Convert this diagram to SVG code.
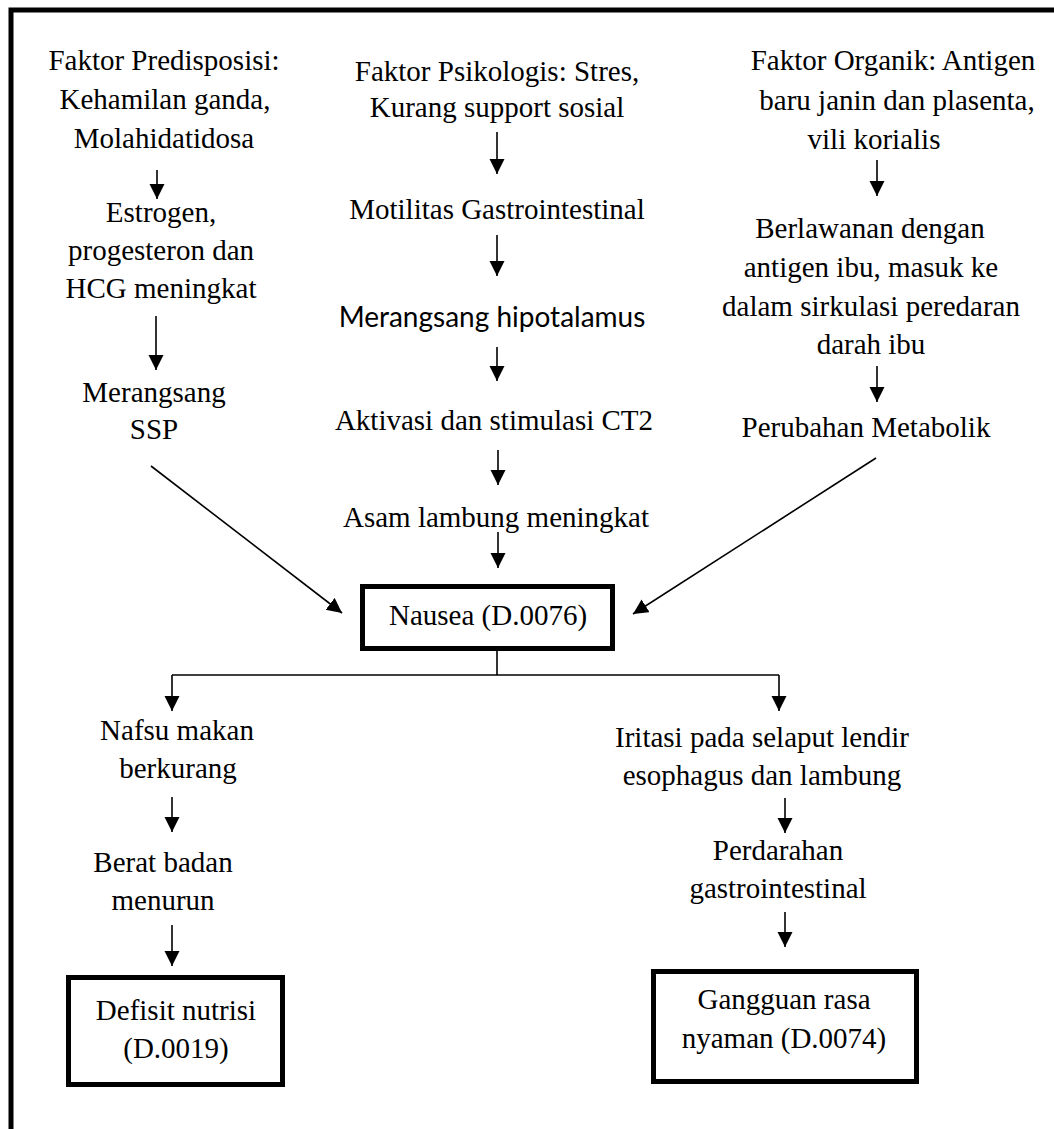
<svg xmlns="http://www.w3.org/2000/svg" width="1054" height="1129" viewBox="0 0 1054 1129">
<style>
text{font-family:"Liberation Serif","Times New Roman",serif;font-size:29px;fill:#000;text-anchor:middle}
.sans{font-family:Lato,"Open Sans",sans-serif;font-size:28px}
.box{fill:#fff;stroke:#000;stroke-width:5}
.c{stroke:#000;stroke-width:1.6;fill:none}
.a{stroke:#000;stroke-width:1.6;fill:none;marker-end:url(#ah)}
</style>
<defs>
<marker id="ah" markerUnits="userSpaceOnUse" markerWidth="16" markerHeight="16" refX="15" refY="7.5" orient="auto" viewBox="0 0 16 16">
<path d="M0,0 L15,7.5 L0,15 z" fill="#000"/>
</marker>
</defs>
<rect x="0" y="0" width="1054" height="1129" fill="#fff"/>
<rect id="frame" x="11" y="10" width="1100" height="1200" fill="none" stroke="#000" stroke-width="5"/>

<g id="faktor-predisposisi">
<text x="164" y="70">Faktor Predisposisi:</text>
<text x="165" y="109">Kehamilan ganda,</text>
<text x="164" y="148">Molahidatidosa</text>
</g>
<g id="estrogen">
<text x="161" y="222">Estrogen,</text>
<text x="161" y="260">progesteron dan</text>
<text x="161" y="298">HCG meningkat</text>
</g>
<g id="merangsang-ssp">
<text x="154" y="402">Merangsang</text>
<text x="154" y="439">SSP</text>
</g>

<g id="faktor-psikologis">
<text x="497" y="81">Faktor Psikologis: Stres,</text>
<text x="497" y="117">Kurang support sosial</text>
</g>
<g id="motilitas">
<text x="497" y="219">Motilitas Gastrointestinal</text>
</g>
<g id="hipotalamus">
<text class="sans" x="492" y="327">Merangsang hipotalamus</text>
</g>
<g id="aktivasi">
<text x="494" y="430">Aktivasi dan stimulasi CT2</text>
</g>
<g id="asam-lambung">
<text x="496" y="527">Asam lambung meningkat</text>
</g>

<g id="faktor-organik">
<text x="893" y="70">Faktor Organik: Antigen</text>
<text x="897" y="110">baru janin dan plasenta,</text>
<text x="874" y="149">vili korialis</text>
</g>
<g id="berlawanan">
<text x="870" y="238">Berlawanan dengan</text>
<text x="871" y="277">antigen ibu, masuk ke</text>
<text x="871" y="316">dalam sirkulasi peredaran</text>
<text x="871" y="354">darah ibu</text>
</g>
<g id="perubahan-metabolik">
<text x="866" y="437">Perubahan Metabolik</text>
</g>

<g id="nausea">
<rect class="box" x="362.5" y="586.5" width="250" height="62"/>
<text x="488" y="625">Nausea (D.0076)</text>
</g>

<g id="nafsu-makan">
<text x="177" y="740">Nafsu makan</text>
<text x="178" y="778">berkurang</text>
</g>
<g id="berat-badan">
<text x="163" y="872">Berat badan</text>
<text x="163" y="910">menurun</text>
</g>
<g id="defisit-nutrisi">
<rect class="box" x="68.5" y="977.5" width="214" height="107"/>
<text x="176" y="1020">Defisit nutrisi</text>
<text x="176" y="1058">(D.0019)</text>
</g>

<g id="iritasi">
<text x="762" y="747">Iritasi pada selaput lendir</text>
<text x="762" y="785">esophagus dan lambung</text>
</g>
<g id="perdarahan">
<text x="778" y="860">Perdarahan</text>
<text x="778" y="898">gastrointestinal</text>
</g>
<g id="gangguan-rasa-nyaman">
<rect class="box" x="653.5" y="971.5" width="263" height="110"/>
<text x="784" y="1009">Gangguan rasa</text>
<text x="784" y="1048">nyaman (D.0074)</text>
</g>

<g id="connectors">
<line class="a" x1="157" y1="170" x2="157" y2="199"/>
<line class="a" x1="156" y1="316" x2="156" y2="370"/>
<line class="a" x1="151" y1="466" x2="342" y2="613"/>
<line class="a" x1="497" y1="132" x2="497" y2="174"/>
<line class="a" x1="497" y1="235" x2="497" y2="276"/>
<line class="a" x1="497" y1="347" x2="497" y2="381"/>
<line class="a" x1="498" y1="450" x2="498" y2="485"/>
<line class="a" x1="498" y1="532" x2="498" y2="568"/>
<line class="a" x1="877" y1="160" x2="877" y2="196"/>
<line class="a" x1="877" y1="366" x2="877" y2="402"/>
<line class="a" x1="876" y1="458" x2="633" y2="614"/>
<line class="c" x1="497" y1="651" x2="497" y2="675"/>
<line class="c" x1="172" y1="675" x2="779" y2="675"/>
<line class="a" x1="172" y1="675" x2="172" y2="711"/>
<line class="a" x1="779" y1="675" x2="779" y2="711"/>
<line class="a" x1="172" y1="797" x2="172" y2="832"/>
<line class="a" x1="172" y1="925" x2="172" y2="966"/>
<line class="a" x1="785" y1="798" x2="785" y2="833"/>
<line class="a" x1="785" y1="912" x2="785" y2="947"/>
</g>
</svg>
